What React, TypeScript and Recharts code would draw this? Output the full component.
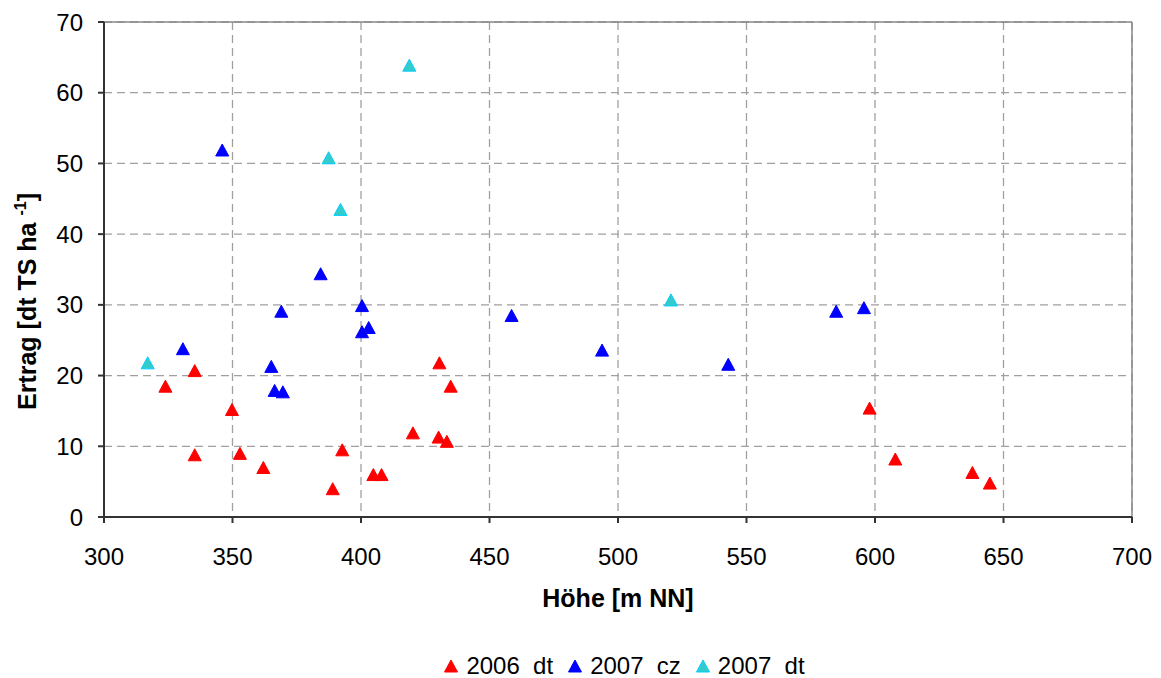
import { ScatterChart, Scatter, XAxis, YAxis, CartesianGrid, Legend, ReferenceLine, Label } from 'recharts';

// Höhe [m NN] / Ertrag [dt TS ha-1]
const dt2006Hoehe = [323.9, 335.3, 349.8, 335.3, 352.9, 362.0, 389.0, 392.7, 404.8, 408.0, 420.2, 430.2, 433.4, 430.5, 434.9, 597.9, 607.9, 637.9, 644.7];
const dt2006Ertrag = [18.5, 20.7, 15.2, 8.8, 9.0, 7.0, 4.0, 9.5, 6.0, 6.0, 11.9, 11.3, 10.7, 21.8, 18.5, 15.4, 8.2, 6.3, 4.8];

const cz2007Hoehe = [330.7, 346.0, 365.1, 366.4, 369.0, 369.6, 384.3, 400.4, 400.4, 403.0, 458.6, 493.8, 542.9, 584.9, 595.7];
const cz2007Ertrag = [23.8, 51.9, 21.3, 17.9, 29.1, 17.7, 34.4, 29.9, 26.2, 26.8, 28.5, 23.6, 21.6, 29.1, 29.6];

const dt2007Hoehe = [317.0, 387.4, 392.0, 418.8, 520.6];
const dt2007Ertrag = [21.8, 50.8, 43.5, 63.9, 30.7];

const xTicks = [300, 350, 400, 450, 500, 550, 600, 650, 700];
const yTicks = [0, 10, 20, 30, 40, 50, 60, 70];

const seriesNames = ['2006  dt', '2007  cz', '2007  dt'];

const toPoints = (xs: number[], ys: number[]) => xs.map((x, i) => ({ x, y: ys[i] }));

const font = '"Liberation Sans", Arial, sans-serif';

const Triangle = (fill: string, stroke: string) => (props: any) => {
  const { cx, cy } = props;
  if (cx == null || cy == null) return null;
  return (
    <polygon
      points={`${cx},${cy - 6} ${cx - 6.5},${cy + 6} ${cx + 6.5},${cy + 6}`}
      fill={fill}
      stroke={stroke}
      strokeWidth={1}
    />
  );
};

const colors = [
  { fill: '#FF0000', stroke: '#FF0000' },
  { fill: '#0000FF', stroke: '#0000FF' },
  { fill: '#33CCCC', stroke: '#00CCFF' },
];

function LegendContent() {
  return (
    <div style={{ display: 'flex', justifyContent: 'center', alignItems: 'center', fontFamily: font, fontSize: 24, color: '#000', paddingLeft: 132 }}>
      {seriesNames.map((name, i) => (
        <span key={name} style={{ display: 'flex', alignItems: 'center', marginRight: 15 }}>
          <svg width={14} height={14} style={{ marginRight: 8 }}>
            <polygon points="7,1 0.5,13 13.5,13" fill={colors[i].fill} stroke={colors[i].stroke} />
          </svg>
          <span style={{ whiteSpace: 'pre' }}>{name}</span>
        </span>
      ))}
    </div>
  );
}

function YLabel(props: any) {
  const vb = props.viewBox || { x: 0, y: 0, height: 0 };
  const x = 36;
  const y = vb.y + vb.height / 2 + 32;
  return (
    <text
      x={x}
      y={y}
      transform={`rotate(-90, ${x}, ${y})`}
      textAnchor="middle"
      fontFamily={font}
      fontWeight="bold"
      fontSize={25}
      fill="#000"
    >
      <tspan>Ertrag [dt TS ha </tspan>
      <tspan fontSize={16} dy={-10}> -1</tspan>
      <tspan dy={10}>]</tspan>
    </text>
  );
}

export default function App() {
  return (
    <div style={{ position: 'absolute', left: 0, top: 0, background: '#fff' }}>
      <ScatterChart width={1161} height={678} margin={{ top: 22, right: 29, left: 0, bottom: 31 }}>
        <CartesianGrid stroke="#A0A0A0" strokeDasharray="8 5" strokeWidth={1.3} />
        <XAxis
          type="number"
          dataKey="x"
          domain={[300, 700]}
          ticks={xTicks}
          allowDataOverflow
          height={100}
          stroke="#333"
          strokeWidth={2}
          tickSize={6}
          tickMargin={25}
          tick={{ fill: '#000', fontSize: 24, fontFamily: font }}
          label={{ value: 'Höhe [m NN]', position: 'insideBottom', offset: 10, fill: '#000', fontSize: 25, fontWeight: 'bold', fontFamily: font }}
        />
        <YAxis
          type="number"
          dataKey="y"
          domain={[0, 70]}
          ticks={yTicks}
          allowDataOverflow
          width={104}
          stroke="#333"
          strokeWidth={2}
          tickSize={6}
          tickMargin={15}
          tick={{ fill: '#000', fontSize: 24, fontFamily: font }}
        >
          <Label content={<YLabel />} />
        </YAxis>
        <ReferenceLine y={70} stroke="#888" strokeWidth={1.5} />
        <ReferenceLine x={700} stroke="#888" strokeWidth={1.5} />
        <Legend verticalAlign="bottom" height={30} wrapperStyle={{ top: 652, bottom: 'auto' }} content={<LegendContent />} />
        <Scatter name={seriesNames[0]} data={toPoints(dt2006Hoehe, dt2006Ertrag)} shape={Triangle(colors[0].fill, colors[0].stroke)} isAnimationActive={false} />
        <Scatter name={seriesNames[1]} data={toPoints(cz2007Hoehe, cz2007Ertrag)} shape={Triangle(colors[1].fill, colors[1].stroke)} isAnimationActive={false} />
        <Scatter name={seriesNames[2]} data={toPoints(dt2007Hoehe, dt2007Ertrag)} shape={Triangle(colors[2].fill, colors[2].stroke)} isAnimationActive={false} />
      </ScatterChart>
    </div>
  );
}
